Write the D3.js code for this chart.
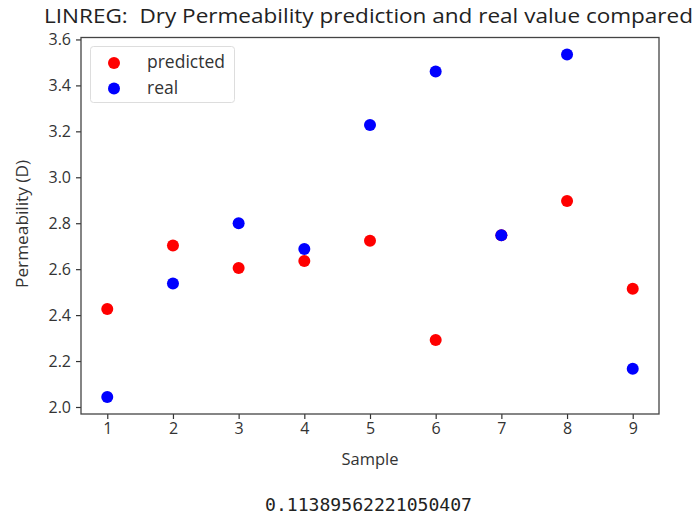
<!DOCTYPE html>
<html><head><meta charset="utf-8">
<script src="https://cdn.jsdelivr.net/npm/d3@7"></script>
<style>body{margin:0;background:#fff}svg{display:block}</style>
</head><body>
<script>
const samples = [1,2,3,4,5,6,7,8,9];
const predicted = [2.427,2.703,2.605,2.636,2.724,2.292,2.748,2.897,2.515];
const real = [2.044,2.538,2.800,2.688,3.228,3.461,2.748,3.534,2.166];
const yTicks = [2.0,2.2,2.4,2.6,2.8,3.0,3.2,3.4,3.6];
const xTicks = [1,2,3,4,5,6,7,8,9];
const seriesNames = ["predicted","real"];
const seriesColors = ["#ff0000","#0000ff"];
const titleText = "LINREG:  Dry Permeability prediction and real value compared";
const xLabel = "Sample", yLabel = "Permeability (D)";
const footer = "0.11389562221050407";

const W=697,H=521;
const m={l:81,r:659,t:37.5,b:414};
const svg=d3.select("body").append("svg").attr("width",W).attr("height",H);
const font="Open Sans, sans-serif";
const x=d3.scaleLinear().domain([0.6,9.4]).range([m.l,m.r]);
const y=d3.scaleLinear().domain([1.9695,3.6085]).range([m.b,m.t]);

const gx=svg.append("g").attr("transform",`translate(0,${m.b})`)
  .call(d3.axisBottom(x).tickValues(xTicks).tickFormat(d3.format("d")).tickSize(5).tickPadding(4));
const gy=svg.append("g").attr("transform",`translate(${m.l},0)`)
  .call(d3.axisLeft(y).tickValues(yTicks).tickFormat(d3.format(".1f")).tickSize(5).tickPadding(5));
[gx,gy].forEach(g=>{g.select(".domain").remove();
  g.selectAll("line").attr("stroke","#333").attr("stroke-width",1.2);
  g.selectAll("text").attr("font-family",font).attr("font-size",16).attr("fill","#333");});

svg.append("rect").attr("x",m.l).attr("y",m.t).attr("width",m.r-m.l).attr("height",m.b-m.t)
  .attr("fill","none").attr("stroke","#444").attr("stroke-width",1.3);

const series=[predicted,real];
series.forEach((vals,i)=>{
  svg.append("g").selectAll("circle").data(vals).enter().append("circle")
    .attr("cx",(d,j)=>x(samples[j])).attr("cy",d=>y(d)).attr("r",6)
    .attr("fill",seriesColors[i]);
});

svg.append("text").attr("x",368.5).attr("y",23).attr("text-anchor","middle")
  .attr("font-family",font).attr("font-size",19.5).attr("fill","#222")
  .attr("textLength",649).attr("lengthAdjust","spacingAndGlyphs")
  .style("white-space","pre").text(titleText);
svg.append("text").attr("x",370).attr("y",465).attr("text-anchor","middle")
  .attr("font-family",font).attr("font-size",16.5).attr("fill","#333").text(xLabel);
svg.append("text").attr("transform",`translate(28,224) rotate(-90)`).attr("text-anchor","middle")
  .attr("font-family",font).attr("font-size",16.5).attr("fill","#333")
  .attr("textLength",128).attr("lengthAdjust","spacingAndGlyphs").text(yLabel);

const lg=svg.append("g");
lg.append("rect").attr("x",90.5).attr("y",46.5).attr("width",144).attr("height",56).attr("rx",3)
  .attr("fill","#fff").attr("stroke","#ddd");
seriesNames.forEach((n,i)=>{
  lg.append("circle").attr("cx",114).attr("cy",63+i*25.5).attr("r",6).attr("fill",seriesColors[i]);
  lg.append("text").attr("x",147).attr("y",68+i*25.5).attr("font-family",font).attr("font-size",17.5)
    .attr("fill","#333").text(n);
});

svg.append("text").attr("x",368.5).attr("y",511).attr("text-anchor","middle")
  .attr("font-family","DejaVu Sans Mono, monospace").attr("font-size",17.5).attr("fill","#222")
  .attr("textLength",207).attr("lengthAdjust","spacingAndGlyphs").text(footer);
</script>
</body></html>
